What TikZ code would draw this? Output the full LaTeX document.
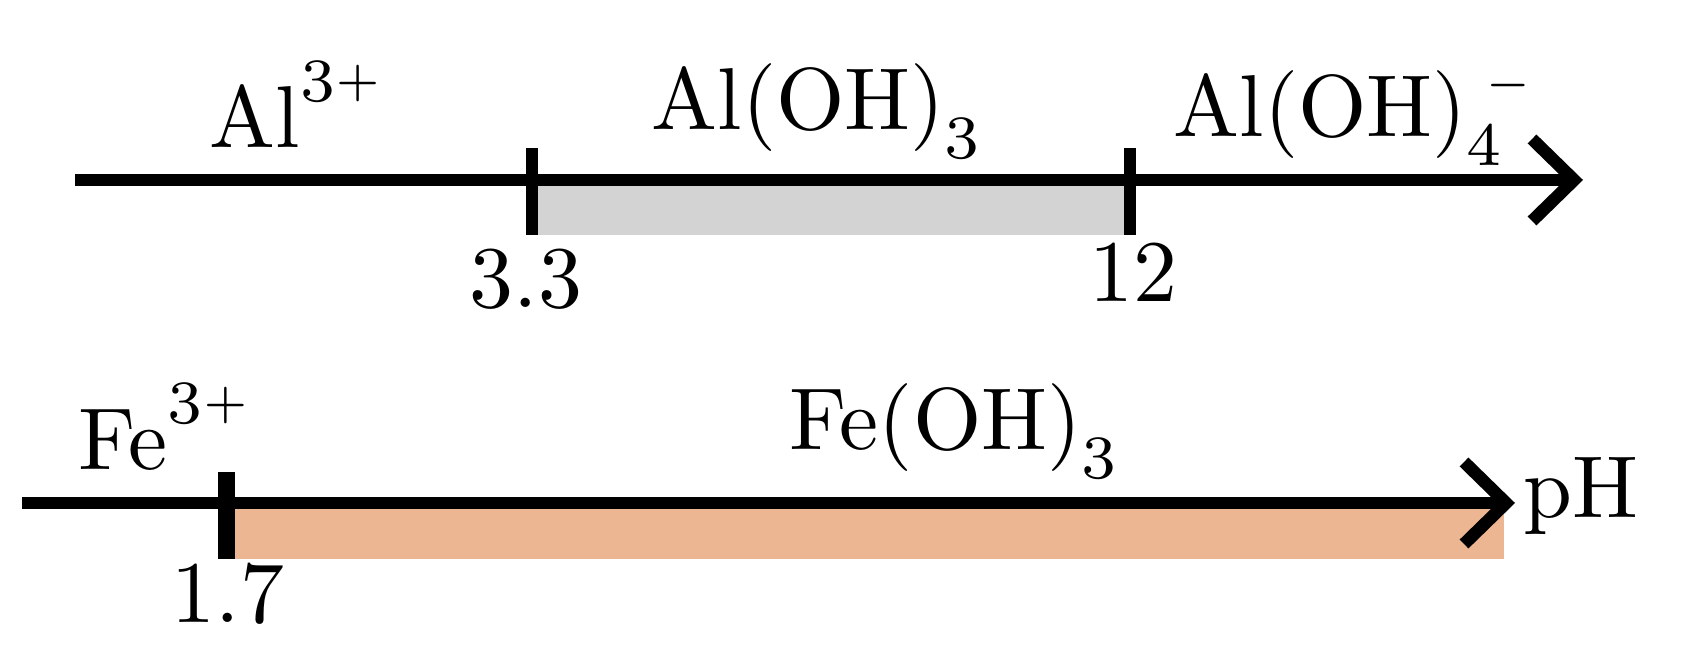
\documentclass[tikz,border=0pt]{standalone}
\usepackage{tikz}
\usetikzlibrary{arrows.meta}
\usetikzlibrary{positioning}
\definecolor{hydgray}{RGB}{211,211,211}
\definecolor{hydorange}{RGB}{237,182,147}
\newcommand{\subidx}[1]{\raisebox{-3.2pt}{$\scriptstyle#1$}}
\newcommand{\supidx}[1]{\raisebox{5.3pt}{$\scriptstyle#1$}}
\newcommand{\chgsign}[2]{\raisebox{#1}{$\scriptscriptstyle#2$}}
\tikzset{phaxis/.style={line width=0.125cm,-{Straight Barb[sharp,length=0.42cm,width=0.82cm]}}}
\tikzset{phtick/.style={line width=0.12cm}}
\tikzset{species/.style={inner sep=0pt,anchor=base west,scale=2.5,transform shape}}
\tikzset{phval/.style={inner sep=0pt,anchor=base,scale=2.5,transform shape}}
\begin{document}
\begin{tikzpicture}
\useasboundingbox (0,0) rectangle (16.88,6.5);
  % aluminium
  \coordinate (alstart) at (0.75,4.70);
  \coordinate (alend) at (15.83,4.70);
  \coordinate (p33) at (5.315,4.70);
  \coordinate (p12) at (11.295,4.70);
  \fill[hydgray] (p33) rectangle ([yshift=-0.55cm]p12);
  \draw[phaxis] (alstart) -- (alend);
  \draw[phtick] ([yshift=0.32cm]p33) -- ([yshift=-0.55cm]p33);
  \draw[phtick] ([yshift=0.32cm]p12) -- ([yshift=-0.55cm]p12);
  \node[species] (al3) at (2.08,5.02) {Al\supidx{3}\chgsign{6.1pt}{+}};
  \node[species] (aloh3) at (6.50,5.20) {Al(OH)\subidx{3}};
  \node[species] (aloh4) at (11.72,5.13) {Al(OH)\subidx{4}\kern-2pt\chgsign{4.65pt}{-}};
  \node[phval] (v33) at (5.26,3.42) {$3.3$};
  \node[phval] (v12) at (11.33,3.48) {$12$};
  % iron
  \coordinate (festart) at (0.22,1.47);
  \coordinate (feend) at (15.15,1.47);
  \coordinate (p17) at (2.265,1.47);
  \coordinate (fefill) at (15.04,0.91);
  \fill[hydorange] (p17) rectangle (fefill);
  \draw[phaxis] (festart) -- (feend);
  \draw[phtick,line width=0.165cm] ([yshift=0.31cm]p17) -- ([yshift=-0.56cm]p17);
  \node[species] (fe3) at (0.77,1.80) {Fe\supidx{3}\chgsign{6.1pt}{+}};
  \node[species] (feoh3) at (7.88,2.00) {Fe(OH)\subidx{3}};
  \node[phval] (v17) at (2.28,0.27) {$1.7$};
  \node[species] (ph) at (15.22,1.32) {pH};
\end{tikzpicture}
\end{document}
